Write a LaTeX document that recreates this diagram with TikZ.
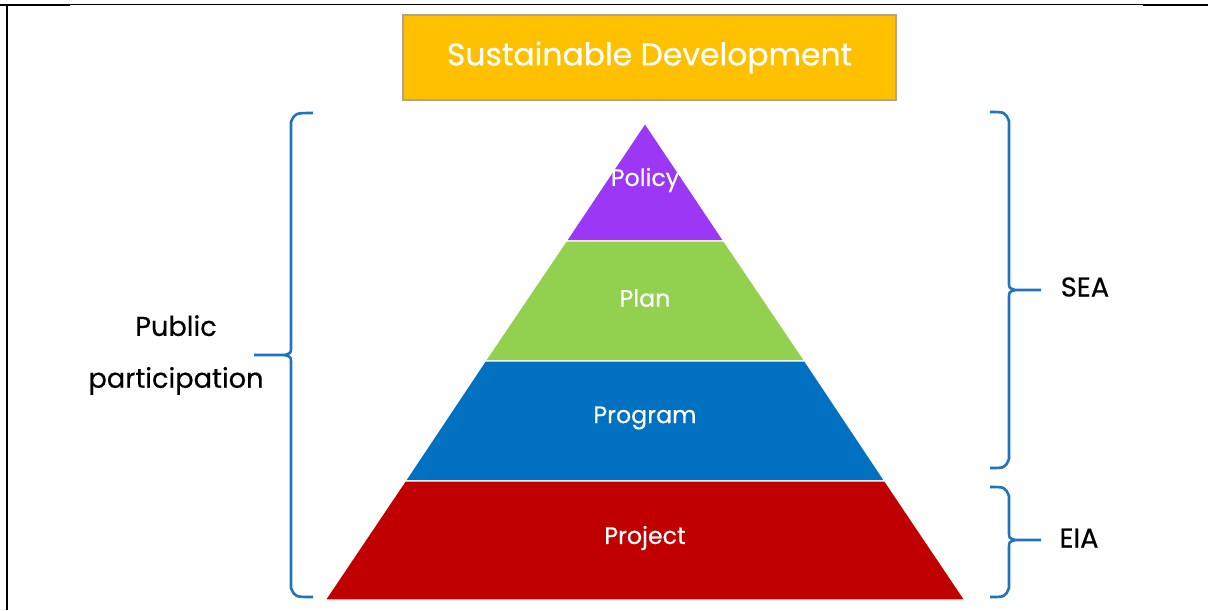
\documentclass[tikz,border=0pt]{standalone}
\usepackage{fontspec}
\setmainfont{Poppins}[FakeBold=0.5]
\usepackage{xcolor}
\usetikzlibrary{positioning}

\definecolor{goalorange}{HTML}{FFC000}
\definecolor{goalborder}{HTML}{B4A28C}
\definecolor{policypurple}{HTML}{9B37F5}
\definecolor{plangreen}{HTML}{92D050}
\definecolor{programblue}{HTML}{0070C0}
\definecolor{projectred}{HTML}{C00000}
\definecolor{braceblue}{HTML}{2273BE}

\begin{document}
\begin{tikzpicture}[
  x=0.02cm, y=-0.02cm,
  topbox/.style={draw=goalborder, fill=goalorange, thick, text=white, minimum width=9.86cm, minimum height=1.7cm, font=\fontsize{17.9}{22}\selectfont},
  layer/.style={draw=white, line width=0.8pt},
  layertext/.style={text=white, font=\fontsize{13.5}{16}\selectfont},
  bracket/.style={draw=braceblue, line width=1.5pt},
  sidetext/.style={align=center, font=\fontsize{15.5}{29.5}\selectfont}
]
\useasboundingbox (0,0) rectangle (1208,610);

% frame
\draw[line width=0.8pt] (7,4.5) -- (1208,4.5);
\draw[line width=1.5pt] (0,5) -- (70,5);
\draw[line width=1.5pt] (1143,5) -- (1208,5);
\draw[line width=1.5pt] (7,5) -- (7,610);

% goal
\node[topbox] (goal) at (649.5,57.5) {Sustainable Development};

% pyramid
\coordinate (apex) at (645,123);
\coordinate (l1) at (566,241); \coordinate (r1) at (724,241);
\coordinate (l2) at (485,361); \coordinate (r2) at (805,361);
\coordinate (l3) at (405,481); \coordinate (r3) at (885,481);
\coordinate (l4) at (325,600); \coordinate (r4) at (965,600);

\filldraw[layer, fill=policypurple] (apex) -- (r1) -- (l1) -- cycle;
\filldraw[layer, fill=plangreen] (l1) -- (r1) -- (r2) -- (l2) -- cycle;
\filldraw[layer, fill=programblue] (l2) -- (r2) -- (r3) -- (l3) -- cycle;
\filldraw[layer, fill=projectred] (l3) -- (r3) -- (r4) -- (l4) -- cycle;

\node[layertext] (policy) at (645,180) {Policy};
\node[layertext] (plan) at (645,298) {Plan};
\node[layertext] (program) at (645,418) {Program};
\node[layertext] (project) at (645,538) {Project};

% braces
\draw[bracket] (313,113) .. controls (295,113) .. (291,122) -- (291,347)
  .. controls (291,353) .. (285,355) -- (254,355);
\draw[bracket] (285,355) .. controls (291,357) .. (291,363) -- (291,588)
  .. controls (295,597) .. (313,597);

\draw[bracket] (990,112) .. controls (1005,112) .. (1009,121) -- (1009,282)
  .. controls (1009,288) .. (1015,290) -- (1041,290);
\draw[bracket] (1015,290) .. controls (1009,292) .. (1009,298) -- (1009,459)
  .. controls (1005,468) .. (990,468);

\draw[bracket] (990,487) .. controls (1005,487) .. (1009,496) -- (1009,532)
  .. controls (1009,538) .. (1015,540) -- (1041,540);
\draw[bracket] (1015,540) .. controls (1009,542) .. (1009,548) -- (1009,588)
  .. controls (1005,597) .. (990,597);

% labels
\node[sidetext] (public) at (176,355) {Public\\participation};
\node[sidetext] (sea) at (1085,287) {SEA};
\node[sidetext] (eia) at (1079,538) {EIA};
\end{tikzpicture}
\end{document}
